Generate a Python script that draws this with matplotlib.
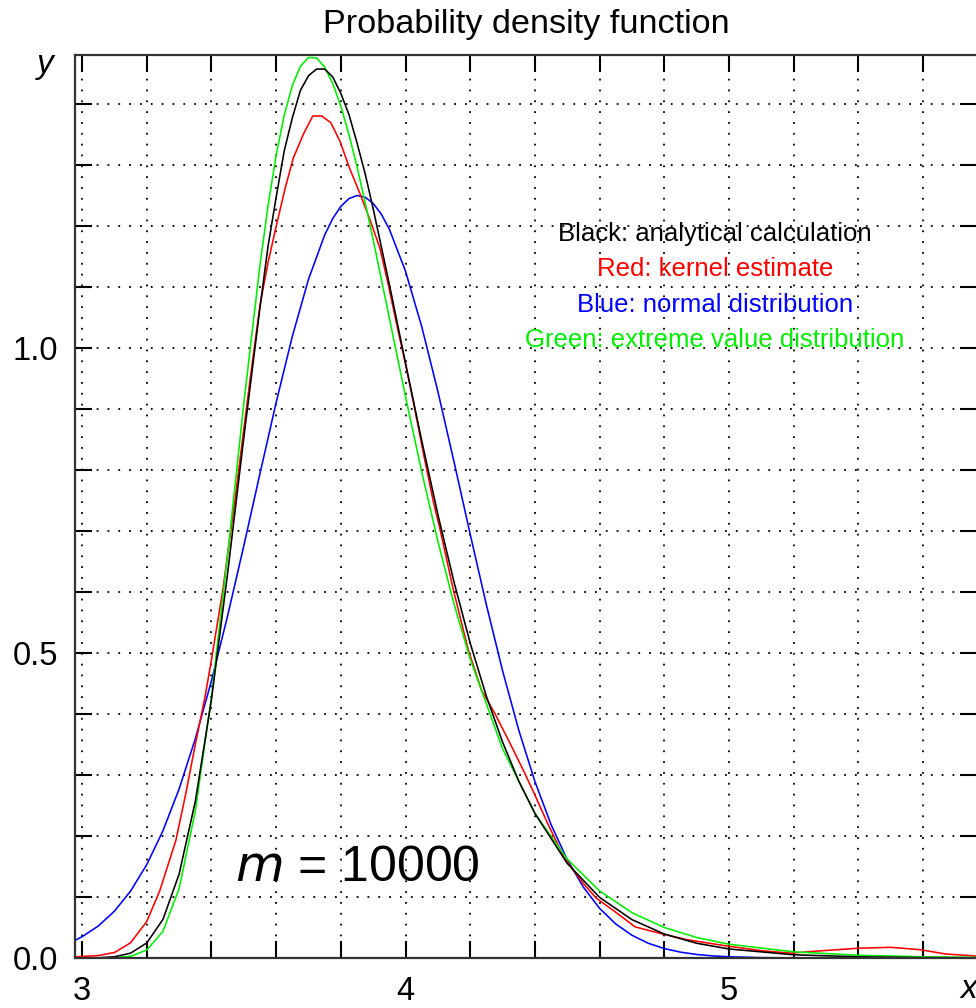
import numpy as np
import matplotlib.pyplot as plt
from matplotlib.ticker import MultipleLocator, FuncFormatter

plt.rcParams['font.family'] = ['Liberation Sans', 'DejaVu Sans']

# Black: analytical calculation
x_black = [2.98, 3.0, 3.05, 3.1, 3.15, 3.2, 3.25, 3.3, 3.35, 3.4, 3.45, 3.5, 3.55, 3.575,
           3.6, 3.625, 3.65, 3.675, 3.7, 3.725, 3.75, 3.775, 3.8, 3.825, 3.85, 3.875, 3.9,
           3.95, 4.0, 4.05, 4.1, 4.15, 4.2, 4.25, 4.3, 4.35, 4.4, 4.5, 4.6, 4.7, 4.8, 4.9,
           5.0, 5.2, 5.4, 5.6, 5.77]
y_black = [0.0, 0.0001, 0.0004, 0.002, 0.008, 0.0247, 0.0633, 0.1377, 0.2568, 0.4236, 0.631,
           0.853, 1.066, 1.167, 1.247, 1.323, 1.377, 1.422, 1.446, 1.457, 1.457, 1.444, 1.417,
           1.3825, 1.336, 1.2857, 1.228, 1.104, 0.975, 0.848, 0.727, 0.616, 0.516, 0.429,
           0.354, 0.290, 0.237, 0.155, 0.0994, 0.0629, 0.0393, 0.0242, 0.0148, 0.0053, 0.0019,
           0.0006, 0.0002]

# Red: kernel estimate
x_red = [2.98, 3.05, 3.1, 3.15, 3.2, 3.24, 3.29, 3.32, 3.35, 3.38, 3.4, 3.435, 3.47, 3.52,
         3.55, 3.575, 3.6, 3.628, 3.653, 3.684, 3.713, 3.741, 3.769, 3.797, 3.828, 3.859,
         3.89, 3.921, 3.947, 3.973, 3.998, 4.024, 4.055, 4.086, 4.107, 4.148, 4.194, 4.235,
         4.277, 4.323, 4.364, 4.395, 4.44, 4.49, 4.55, 4.59, 4.64, 4.71, 4.79, 4.87, 4.99,
         5.1, 5.19, 5.29, 5.4, 5.5, 5.59, 5.67, 5.77]
y_red = [0.002, 0.004, 0.009, 0.025, 0.060, 0.110, 0.193, 0.268, 0.350, 0.428, 0.489, 0.603,
         0.740, 0.951, 1.07, 1.14, 1.199, 1.262, 1.311, 1.350, 1.380, 1.380, 1.369, 1.339,
         1.293, 1.253, 1.210, 1.163, 1.103, 1.038, 0.978, 0.912, 0.828, 0.748, 0.702, 0.603,
         0.505, 0.439, 0.400, 0.352, 0.308, 0.273, 0.220, 0.165, 0.122, 0.098, 0.079, 0.051,
         0.040, 0.030, 0.020, 0.012, 0.008, 0.012, 0.016, 0.0175, 0.0137, 0.0066, 0.003]

# Blue: normal distribution
x_blue = [2.98, 3.0, 3.05, 3.1, 3.15, 3.2, 3.25, 3.3, 3.35, 3.4, 3.45, 3.5, 3.55, 3.6, 3.65,
          3.7, 3.75, 3.775, 3.8, 3.825, 3.85, 3.875, 3.9, 3.925, 3.95, 4.0, 4.05, 4.1, 4.15,
          4.2, 4.25, 4.3, 4.35, 4.4, 4.45, 4.5, 4.55, 4.6, 4.65, 4.7, 4.75, 4.8, 4.85, 4.9,
          4.95, 5.0, 5.1, 5.2, 5.4, 5.77]
y_blue = [0.0294, 0.0349, 0.0524, 0.0768, 0.1098, 0.1532, 0.2086, 0.2772, 0.3593, 0.4545,
          0.5610, 0.6757, 0.7941, 0.9105, 1.0189, 1.1124, 1.185, 1.212, 1.2319, 1.2446,
          1.2497, 1.2470, 1.2368, 1.2192, 1.1945, 1.1256, 1.035, 0.9286, 0.8131, 0.6945,
          0.5789, 0.4709, 0.3737, 0.2894, 0.2187, 0.1612, 0.1160, 0.0814, 0.0558, 0.0373,
          0.0243, 0.0155, 0.0096, 0.0058, 0.0034, 0.0020, 0.0006, 0.0002, 0.0, 0.0]

# Green: extreme value distribution
x_green = [2.98, 3.0, 3.1, 3.15, 3.2, 3.25, 3.3, 3.35, 3.4, 3.45, 3.5, 3.55, 3.575, 3.6,
           3.625, 3.65, 3.675, 3.7, 3.725, 3.75, 3.775, 3.8, 3.825, 3.85, 3.875, 3.9, 3.95,
           4.0, 4.05, 4.1, 4.15, 4.2, 4.3, 4.4, 4.5, 4.6, 4.7, 4.8, 4.9, 5.0, 5.2, 5.4, 5.6,
           5.77]
y_green = [0.0, 0.0, 0.0004, 0.0028, 0.0131, 0.0437, 0.114, 0.241, 0.4285, 0.661, 0.909,
           1.136, 1.2333, 1.316, 1.3815, 1.430, 1.4614, 1.476, 1.4751, 1.460, 1.4333, 1.396,
           1.3498, 1.297, 1.2385, 1.177, 1.049, 0.920, 0.797, 0.683, 0.580, 0.490, 0.343,
           0.237, 0.162, 0.110, 0.0743, 0.0500, 0.0336, 0.0226, 0.0101, 0.0045, 0.0020,
           0.0010]

legend_lines = ["Black: analytical calculation", "Red: kernel estimate",
                "Blue: normal distribution", "Green: extreme value distribution"]
legend_colors = ["black", "#ff0000", "#0000ff", "#00ee00"]

fig = plt.figure(figsize=(9.76, 10.08), dpi=100)
ax = fig.add_axes([75 / 976, 50 / 1008, 902 / 976, 903 / 1008])

lw = 1.15
ax.plot(x_blue, y_blue, color="#0000ff", lw=lw)
ax.plot(x_red, y_red, color="#ff0000", lw=lw)
ax.plot(x_green, y_green, color="#00ee00", lw=lw)
ax.plot(x_black, y_black, color="black", lw=lw)

ax.set_xlim(2.978, 5.767)
ax.set_ylim(0, 1.48)

ax.xaxis.set_major_locator(MultipleLocator(0.2))
ax.yaxis.set_major_locator(MultipleLocator(0.1))
ax.xaxis.set_major_formatter(FuncFormatter(
    lambda v, p: f"{v:.0f}" if abs(v - round(v)) < 1e-6 else ""))
ax.yaxis.set_major_formatter(FuncFormatter(
    lambda v, p: f"{v:.1f}" if abs(v * 2 - round(v * 2)) < 1e-6 else ""))

ax.tick_params(which="both", direction="in", length=12, width=1.5, top=True, right=True,
               labelsize=23.5, color="black")
ax.tick_params(axis="x", pad=13)
ax.tick_params(axis="y", pad=12)
for sp in ax.spines.values():
    sp.set_linewidth(1.6)
    sp.set_color("#333333")

ax.grid(True, which="major", color="black", linestyle=(0, (1, 5)), linewidth=1.3)

for i, (txt, col) in enumerate(zip(legend_lines, legend_colors)):
    ax.text(4.957, 1.186 - i * 0.0575, txt, color=col, fontsize=18.5,
            ha="center", va="center")

ax.text(3.85, 0.1475, r"$m$ = 10000", fontsize=36, ha="center", va="center")

fig.text(0.5393, 1 - 25 / 1008, "Probability density function", fontsize=24.7,
         ha="center", va="center")
fig.text(45 / 976, 1 - 65 / 1008, "y", fontsize=24, style="italic", ha="center", va="center")
fig.text(969 / 976, 1 - 990 / 1008, "x", fontsize=24, style="italic", ha="center", va="center")

fig.savefig("out.png", dpi=100)
